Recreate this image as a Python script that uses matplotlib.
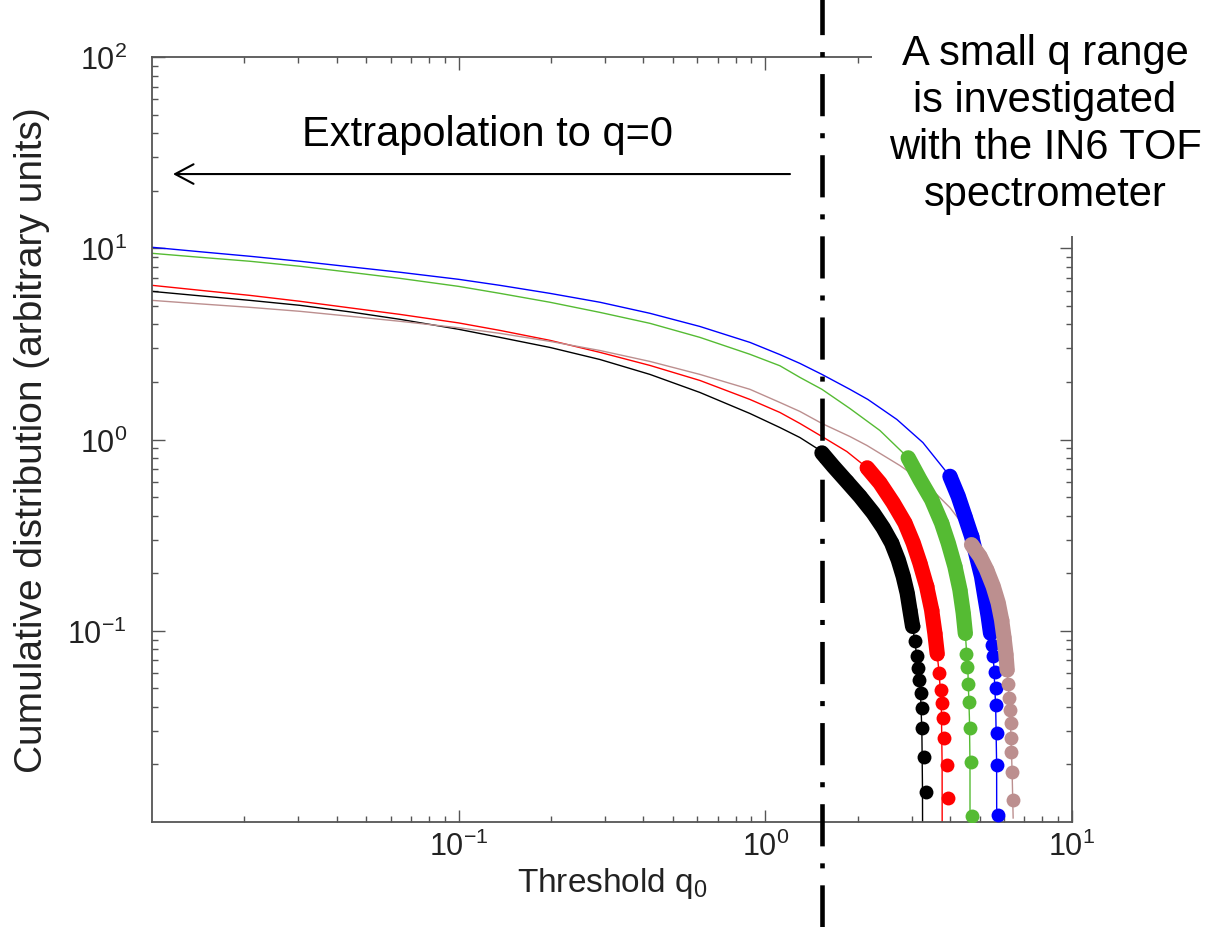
import matplotlib
matplotlib.use('Agg')
import matplotlib.pyplot as plt
from matplotlib.patches import Rectangle
from matplotlib.transforms import blended_transform_factory

plt.rcParams['font.family'] = ['Liberation Sans', 'DejaVu Sans']
plt.rcParams['mathtext.fontset'] = 'custom'
plt.rcParams['mathtext.rm'] = 'Liberation Sans'
plt.rcParams['mathtext.it'] = 'Liberation Sans:italic'
plt.rcParams['mathtext.default'] = 'regular'

black_q = [1.53, 1.665, 1.841, 2.034, 2.248, 2.424, 2.581, 2.713, 2.817, 2.902, 2.961,
           3.022, 3.074, 3.113, 3.152, 3.174, 3.207, 3.247, 3.255, 3.288, 3.33]
black_c = [0.851, 0.725, 0.605, 0.505, 0.413, 0.345, 0.288, 0.235, 0.1925, 0.1575, 0.1288,
           0.1054, 0.0879, 0.0734, 0.0637, 0.0554, 0.0472, 0.0394, 0.031, 0.022, 0.0144]

red_q = [2.149, 2.364, 2.612, 2.853, 3.036, 3.193, 3.357, 3.485, 3.573, 3.635, 3.69,
         3.738, 3.775, 3.802, 3.83, 3.902, 3.949]
red_c = [0.711, 0.593, 0.466, 0.366, 0.288, 0.226, 0.171, 0.129, 0.097, 0.076, 0.060,
         0.049, 0.042, 0.035, 0.0276, 0.0199, 0.0133]

green_q = [2.924, 3.193, 3.485, 3.757, 3.949, 4.152, 4.311, 4.42, 4.49, 4.51, 4.53,
           4.587, 4.62, 4.646, 4.67, 4.705]
green_c = [0.802, 0.6175, 0.485, 0.366, 0.288, 0.217, 0.164, 0.124, 0.097, 0.076, 0.065,
           0.053, 0.0426, 0.031, 0.0207, 0.0108]

blue_q = [4.0, 4.256, 4.476, 4.705, 4.886, 5.072, 5.2, 5.331, 5.427, 5.49, 5.534,
          5.605, 5.647, 5.647, 5.677, 5.70, 5.747]
blue_c = [0.642, 0.505, 0.397, 0.312, 0.245, 0.1925, 0.151, 0.119, 0.097, 0.0845, 0.0734,
          0.0612, 0.0501, 0.041, 0.0291, 0.0199, 0.0109]

brown_q = [4.705, 5.01, 5.266, 5.534, 5.747, 5.895, 5.998, 6.088, 6.147, 6.194, 6.24,
           6.273, 6.305, 6.32, 6.34, 6.38, 6.43]
brown_c = [0.282, 0.245, 0.209, 0.171, 0.14, 0.114, 0.093, 0.076, 0.0625, 0.053, 0.0444,
           0.0386, 0.0329, 0.0274, 0.0233, 0.0183, 0.013]

# --- fitted curves extrapolated to q -> 0 ---
# q values where the fitted curves were read off (left part, shared)
fit_q_left = [0.01, 0.01434, 0.02087, 0.0304, 0.0442, 0.0644, 0.1, 0.1363, 0.1985,
              0.289, 0.4205, 0.612, 0.891, 1.116, 1.297, 1.53]

black_fit_q = fit_q_left + [1.841, 2.248, 2.581, 2.817, 2.961, 3.074, 3.152, 3.207, 3.24,
                            3.255, 3.26]
black_fit_c = [5.95, 5.64, 5.34, 5.03, 4.65, 4.25, 3.77, 3.42, 3.03, 2.62, 2.19, 1.762,
               1.368, 1.155, 1.024, 0.865,
               0.605, 0.413, 0.288, 0.1925, 0.129, 0.088, 0.064, 0.047, 0.03, 0.015, 0.005]

red_fit_q = fit_q_left + [1.845, 2.149, 2.364, 2.612, 3.036, 3.357, 3.573, 3.69, 3.75,
                          3.772, 3.775]
red_fit_c = [6.40, 6.03, 5.67, 5.28, 4.88, 4.51, 4.07, 3.72, 3.30, 2.855, 2.44, 2.036,
             1.62, 1.385, 1.213, 1.037,
             0.865, 0.711, 0.593, 0.466, 0.288, 0.171, 0.097, 0.06, 0.04, 0.02, 0.005]

green_fit_q = fit_q_left + [1.887, 2.364, 2.924, 3.193, 3.485, 3.949, 4.311, 4.49, 4.58,
                            4.63, 4.65, 4.652]
green_fit_c = [9.41, 8.97, 8.55, 8.05, 7.49, 6.96, 6.32, 5.81, 5.22, 4.62, 4.05, 3.42,
               2.79, 2.43, 2.112, 1.83,
               1.453, 1.115, 0.802, 0.6175, 0.485, 0.288, 0.164, 0.097, 0.06, 0.035, 0.02,
               0.005]

blue_fit_q = fit_q_left + [1.887, 2.16, 2.686, 3.265, 4.0, 4.476, 4.886, 5.2, 5.427, 5.56,
                           5.64, 5.68, 5.685]
blue_fit_c = [10.12, 9.59, 9.08, 8.55, 8.0, 7.49, 6.88, 6.40, 5.81, 5.22, 4.57, 3.90,
              3.22, 2.78, 2.50, 2.19,
              1.83, 1.62, 1.273, 0.964, 0.642, 0.397, 0.245, 0.151, 0.097, 0.066, 0.04,
              0.02, 0.005]

brown_fit_q = fit_q_left + [1.887, 2.145, 2.748, 3.193, 3.627, 4.0, 4.311, 4.717, 5.01,
                            5.266, 5.534, 5.747, 5.895, 5.998, 6.088, 6.147, 6.24, 6.305,
                            6.38, 6.43]
brown_fit_c = [5.34, 5.12, 4.91, 4.68, 4.41, 4.15, 3.84, 3.59, 3.26, 2.92, 2.56, 2.19,
               1.83, 1.562, 1.402, 1.213,
               1.037, 0.931, 0.731, 0.6175, 0.515, 0.4406, 0.3766, 0.2995, 0.245, 0.209,
               0.171, 0.14, 0.114, 0.093, 0.076, 0.0625, 0.0444, 0.0329, 0.0183, 0.0105]

q_cut = 1.53  # lower edge of the IN6 q range

x_ticks = [0.1, 1, 10]
y_ticks = [0.1, 1, 10, 100]

# colour, number of points in the dense (merged) part of each data set
styles = {
    'black': ('#000000', 12),
    'red': ('#ff0000', 10),
    'green': ('#55bb33', 9),
    'blue': ('#0000ff', 9),
    'brown': ('#bc8f8f', 9),
}
series = [
    ('black', black_fit_q, black_fit_c, black_q, black_c),
    ('red', red_fit_q, red_fit_c, red_q, red_c),
    ('green', green_fit_q, green_fit_c, green_q, green_c),
    ('blue', blue_fit_q, blue_fit_c, blue_q, blue_c),
    ('brown', brown_fit_q, brown_fit_c, brown_q, brown_c),
]

fig = plt.figure(figsize=(12.18, 9.28), dpi=100)
ax = fig.add_axes([0.1248, 0.1131, 0.7553, 0.8244])
ax.set_xscale('log')
ax.set_yscale('log')

for name, fq, fc, q, c in series:
    col, n_dense = styles[name]
    ax.plot(fq, fc, color=col, lw=1.0, zorder=2)
    ax.plot(q[:n_dense], c[:n_dense], color=col, lw=11, solid_capstyle='round',
            solid_joinstyle='round', zorder=3)
    ax.plot(q, c, 'o', color=col, ms=10, mec='none', zorder=3)

ax.set_xlim(0.01, 10)
ax.set_ylim(0.01, 100)
ax.set_xticks(x_ticks)
ax.set_yticks(y_ticks)

ax.tick_params(which='both', direction='in', top=True, right=True,
               color='#555555', width=1.0, labelcolor='#222222')
ax.tick_params(which='major', length=9)
ax.tick_params(which='minor', length=4)
ax.tick_params(axis='y', which='major', pad=18, labelsize=22)
ax.tick_params(axis='x', which='major', pad=6, labelsize=22)
for s in ax.spines.values():
    s.set_color('#555555')
    s.set_linewidth(1.3)

ax.set_xlabel('Threshold q$_0$', fontsize=24, color='#222222')
ax.xaxis.set_label_coords(0.5, -0.056)
ax.set_ylabel('Cumulative distribution (arbitrary units)', fontsize=28, color='#222222')
ax.yaxis.set_label_coords(-0.111, 0.5)

# dash-dot cut running over the full figure height
trans = blended_transform_factory(ax.transData, fig.transFigure)
ax.plot([q_cut, q_cut], [0, 1], transform=trans, color='black', lw=3.3,
        ls=(0, (9.2, 3.7, 1.1, 3.7)), clip_on=False, zorder=6)

ax.annotate('', xy=(0.0228, 0.847), xytext=(0.6935, 0.847), xycoords='axes fraction',
            arrowprops=dict(arrowstyle='->,head_length=0.6,head_width=0.32', lw=1.5,
                            color='black', mutation_scale=22, shrinkA=0, shrinkB=0))
ax.text(0.365, 0.899, 'Extrapolation to q=0', transform=ax.transAxes,
        ha='center', va='center', fontsize=30)

fig.add_artist(Rectangle((872 / 1218, 1 - 237 / 928), 346 / 1218, 237 / 928,
                         transform=fig.transFigure, fc='white', ec='none', zorder=5))
fig.text(0.858, 0.866, 'A small q range\nis investigated\nwith the IN6 TOF\nspectrometer',
         ha='center', va='center', fontsize=30, linespacing=1.22, zorder=6)

fig.savefig('out.png', dpi=100)
